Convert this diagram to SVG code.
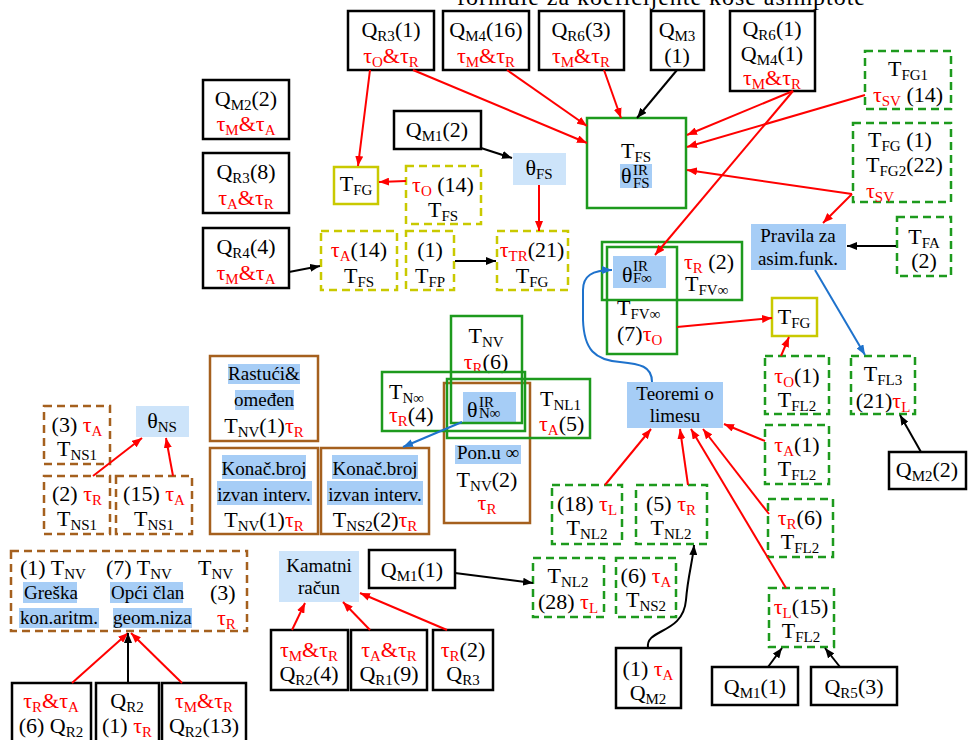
<svg xmlns="http://www.w3.org/2000/svg" width="968" height="740" viewBox="0 0 968 740">
<defs>
<style>
.t{font-family:"Liberation Serif","Times New Roman",serif;font-size:22px;fill:#000}
.m{font-size:19px}
.c{text-anchor:middle}
.s{font-size:15px}
.r{fill:#f00}
.bk{fill:#fff;stroke:#000;stroke-width:2.5}
.gs{fill:none;stroke:#1d9a1d;stroke-width:2.5}
.gd{fill:#fff;stroke:#1d9a1d;stroke-width:2.5;stroke-dasharray:8 5}
.ys{fill:#fff;stroke:#c9c900;stroke-width:2.5}
.yd{fill:#fff;stroke:#c9c900;stroke-width:2.5;stroke-dasharray:8 5}
.bs{fill:none;stroke:#a5601e;stroke-width:2.5}
.bd{fill:#fff;stroke:#a5601e;stroke-width:2.5;stroke-dasharray:8 5}
.hl{fill:#cde4fa}
.hm{fill:#a6cdf6}
.er{fill:none;stroke:#f00;stroke-width:2;marker-end:url(#ar)}
.eb{fill:none;stroke:#000;stroke-width:2;marker-end:url(#ab)}
.eu{fill:none;stroke:#1e72cc;stroke-width:2;marker-end:url(#au)}
</style>
<marker id="ar" markerUnits="userSpaceOnUse" markerWidth="10" markerHeight="8" refX="10" refY="4" orient="auto"><path d="M0,0 L10,4 L0,8 z" fill="#f00"/></marker>
<marker id="ab" markerUnits="userSpaceOnUse" markerWidth="10" markerHeight="8" refX="10" refY="4" orient="auto"><path d="M0,0 L10,4 L0,8 z" fill="#000"/></marker>
<marker id="au" markerUnits="userSpaceOnUse" markerWidth="10" markerHeight="8" refX="10" refY="4" orient="auto"><path d="M0,0 L10,4 L0,8 z" fill="#1e72cc"/></marker>
</defs>
<rect width="968" height="740" fill="#fff"/>

<g id="title"><text class="t" x="457" y="5" style="font-size:24px" textLength="408" lengthAdjust="spacing">formule za koeficijente kose asimptote</text></g>

<!-- top row -->
<g id="qr3-1"><rect class="bk" x="348" y="11" width="86" height="59"/>
<text class="t c" x="391" y="37">Q<tspan class="s" dy="4">R3</tspan><tspan dy="-4">(1)</tspan></text>
<text class="t c r" x="391" y="63">τ<tspan class="s" dy="4">O</tspan><tspan dy="-4">&amp;τ</tspan><tspan class="s" dy="4">R</tspan></text></g>

<g id="qm4-16"><rect class="bk" x="443" y="11" width="86" height="59"/>
<text class="t c" x="486" y="37">Q<tspan class="s" dy="4">M4</tspan><tspan dy="-4">(16)</tspan></text>
<text class="t c r" x="486" y="63">τ<tspan class="s" dy="4">M</tspan><tspan dy="-4">&amp;τ</tspan><tspan class="s" dy="4">R</tspan></text></g>

<g id="qr6-3"><rect class="bk" x="539" y="11" width="85" height="59"/>
<text class="t c" x="581" y="37">Q<tspan class="s" dy="4">R6</tspan><tspan dy="-4">(3)</tspan></text>
<text class="t c r" x="581" y="63">τ<tspan class="s" dy="4">M</tspan><tspan dy="-4">&amp;τ</tspan><tspan class="s" dy="4">R</tspan></text></g>

<g id="qm3"><rect class="bk" x="651" y="11" width="53" height="59"/>
<text class="t c" x="677" y="37">Q<tspan class="s" dy="4">M3</tspan></text>
<text class="t c" x="677" y="63">(1)</text></g>

<g id="qr6-1"><rect class="bk" x="730" y="11" width="85" height="80"/>
<text class="t c" x="772" y="36">Q<tspan class="s" dy="4">R6</tspan><tspan dy="-4">(1)</tspan></text>
<text class="t c" x="772" y="61">Q<tspan class="s" dy="4">M4</tspan><tspan dy="-4">(1)</tspan></text>
<text class="t c r" x="772" y="85">τ<tspan class="s" dy="4">M</tspan><tspan dy="-4">&amp;τ</tspan><tspan class="s" dy="4">R</tspan></text></g>

<g id="tfg1"><rect class="gd" x="865" y="51" width="86" height="58"/>
<text class="t c" x="908" y="76">T<tspan class="s" dy="4">FG1</tspan></text>
<text class="t c" x="908" y="102"><tspan class="r">τ</tspan><tspan class="s r" dy="4">SV</tspan><tspan dy="-4"> (14)</tspan></text></g>

<!-- left column -->
<g id="qm2-2"><rect class="bk" x="203" y="80" width="86" height="59"/>
<text class="t c" x="246" y="106">Q<tspan class="s" dy="4">M2</tspan><tspan dy="-4">(2)</tspan></text>
<text class="t c r" x="246" y="131">τ<tspan class="s" dy="4">M</tspan><tspan dy="-4">&amp;τ</tspan><tspan class="s" dy="4">A</tspan></text></g>

<g id="qr3-8"><rect class="bk" x="203" y="153" width="86" height="60"/>
<text class="t c" x="246" y="179">Q<tspan class="s" dy="4">R3</tspan><tspan dy="-4">(8)</tspan></text>
<text class="t c r" x="246" y="205">τ<tspan class="s" dy="4">A</tspan><tspan dy="-4">&amp;τ</tspan><tspan class="s" dy="4">R</tspan></text></g>

<g id="qr4-4"><rect class="bk" x="203" y="228" width="86" height="60"/>
<text class="t c" x="246" y="254">Q<tspan class="s" dy="4">R4</tspan><tspan dy="-4">(4)</tspan></text>
<text class="t c r" x="246" y="280">τ<tspan class="s" dy="4">M</tspan><tspan dy="-4">&amp;τ</tspan><tspan class="s" dy="4">A</tspan></text></g>

<g id="qm1-2"><rect class="bk" x="394" y="111" width="87" height="38"/>
<text class="t c" x="437" y="137">Q<tspan class="s" dy="4">M1</tspan><tspan dy="-4">(2)</tspan></text></g>

<g id="theta-fs"><rect class="hl" x="513" y="153" width="53" height="32"/>
<text class="t c" x="539" y="175">θ<tspan class="s" dy="4">FS</tspan></text></g>

<g id="tfg-a"><rect class="ys" x="334" y="167" width="44" height="37"/>
<text class="t c" x="356" y="191">T<tspan class="s" dy="4">FG</tspan></text></g>

<g id="to14"><rect class="yd" x="406" y="166" width="75" height="58"/>
<text class="t c" x="443" y="192"><tspan class="r">τ</tspan><tspan class="s r" dy="4">O</tspan><tspan dy="-4"> (14)</tspan></text>
<text class="t c" x="443" y="217">T<tspan class="s" dy="4">FS</tspan></text></g>

<g id="ta14"><rect class="yd" x="321" y="231" width="76" height="59"/>
<text class="t c" x="359" y="257"><tspan class="r">τ</tspan><tspan class="s r" dy="4">A</tspan><tspan dy="-4">(14)</tspan></text>
<text class="t c" x="359" y="283">T<tspan class="s" dy="4">FS</tspan></text></g>

<g id="tfp"><rect class="yd" x="406" y="231" width="48" height="59"/>
<text class="t c" x="430" y="257">(1)</text>
<text class="t c" x="430" y="283">T<tspan class="s" dy="4">FP</tspan></text></g>

<g id="ttr21"><rect class="yd" x="497" y="231" width="71" height="59"/>
<text class="t c" x="532" y="257"><tspan class="r">τ</tspan><tspan class="s r" dy="4">TR</tspan><tspan dy="-4">(21)</tspan></text>
<text class="t c" x="532" y="283">T<tspan class="s" dy="4">FG</tspan></text></g>

<!-- TFS box -->
<g id="tfs"><rect class="gs" x="587" y="118" width="99" height="90" fill="#fff" style="fill:#fff"/>
<text class="t c" x="636" y="158">T<tspan class="s" dy="4">FS</tspan></text>
<rect class="hm" x="620" y="164" width="32" height="24"/>
<text class="t" x="621" y="183">θ</text>
<text class="t s" x="633" y="175">IR</text>
<text class="t s" x="633" y="188">FS</text></g>

<g id="tfg2"><rect class="gd" x="853" y="123" width="98" height="79"/>
<text class="t" x="868" y="147">T<tspan class="s" dy="4">FG</tspan><tspan dy="-4"> (1)</tspan></text>
<text class="t" x="866" y="172">T<tspan class="s" dy="4">FG2</tspan><tspan dy="-4">(22)</tspan></text>
<text class="t r" x="866" y="198">τ<tspan class="s" dy="4">SV</tspan></text></g>

<g id="pravila"><rect class="hm" x="751" y="224" width="95" height="46"/>
<text class="t m c" x="798" y="242">Pravila za</text>
<text class="t m c" x="798" y="265">asim.funk.</text></g>

<g id="tfa"><rect class="gd" x="897" y="217" width="54" height="59"/>
<text class="t c" x="924" y="244">T<tspan class="s" dy="4">FA</tspan></text>
<text class="t c" x="924" y="268">(2)</text></g>

<!-- theta F inf cluster -->
<g id="theta-finf"><rect class="hm" x="613" y="256" width="53" height="32"/>
<text class="t" x="622" y="282">θ</text>
<text class="t s" x="633" y="271">IR</text>
<text class="t s" x="633" y="283">F∞</text></g>

<g id="tfvinf-r2"><rect class="gs" x="602" y="242" width="140" height="58"/>
<text class="t" x="684" y="269"><tspan class="r">τ</tspan><tspan class="s r" dy="4">R</tspan><tspan dy="-4"> (2)</tspan></text>
<text class="t" x="685" y="291">T<tspan class="s" dy="4">FV∞</tspan></text></g>

<g id="tfvinf-o7"><rect class="gs" x="607" y="247" width="70" height="107"/>
<text class="t" x="617" y="315">T<tspan class="s" dy="4">FV∞</tspan></text>
<text class="t" x="617" y="341">(7)<tspan class="r">τ</tspan><tspan class="s r" dy="4">O</tspan></text></g>

<g id="tfg-b"><rect class="ys" x="772" y="298" width="45" height="38"/>
<text class="t c" x="794" y="324">T<tspan class="s" dy="4">FG</tspan></text></g>

<!-- right column -->
<g id="to1"><rect class="gd" x="765" y="356" width="64" height="58"/>
<text class="t c" x="797" y="383"><tspan class="r">τ</tspan><tspan class="s r" dy="4">O</tspan><tspan dy="-4">(1)</tspan></text>
<text class="t c" x="797" y="407">T<tspan class="s" dy="4">FL2</tspan></text></g>

<g id="tfl3"><rect class="gd" x="851" y="356" width="64" height="58"/>
<text class="t c" x="883" y="381">T<tspan class="s" dy="4">FL3</tspan></text>
<text class="t c" x="883" y="408">(21)<tspan class="r">τ</tspan><tspan class="s r" dy="4">L</tspan></text></g>

<g id="ta1"><rect class="gd" x="765" y="425" width="64" height="59"/>
<text class="t c" x="797" y="452"><tspan class="r">τ</tspan><tspan class="s r" dy="4">A</tspan><tspan dy="-4">(1)</tspan></text>
<text class="t c" x="797" y="476">T<tspan class="s" dy="4">FL2</tspan></text></g>

<g id="qm2-2b"><rect class="bk" x="889" y="452" width="77" height="37"/>
<text class="t c" x="927" y="477">Q<tspan class="s" dy="4">M2</tspan><tspan dy="-4">(2)</tspan></text></g>

<g id="tr6"><rect class="gd" x="768" y="499" width="65" height="58"/>
<text class="t c" x="800" y="525"><tspan class="r">τ</tspan><tspan class="s r" dy="4">R</tspan><tspan dy="-4">(6)</tspan></text>
<text class="t c" x="800" y="549">T<tspan class="s" dy="4">FL2</tspan></text></g>

<g id="tl15"><rect class="gd" x="769" y="588" width="65" height="59"/>
<text class="t c" x="801" y="614"><tspan class="r">τ</tspan><tspan class="s r" dy="4">L</tspan><tspan dy="-4">(15)</tspan></text>
<text class="t c" x="801" y="638">T<tspan class="s" dy="4">FL2</tspan></text></g>

<g id="qm1-1b"><rect class="bk" x="712" y="667" width="86" height="38"/>
<text class="t c" x="755" y="694">Q<tspan class="s" dy="4">M1</tspan><tspan dy="-4">(1)</tspan></text></g>

<g id="qr5-3"><rect class="bk" x="811" y="667" width="86" height="38"/>
<text class="t c" x="854" y="694">Q<tspan class="s" dy="4">R5</tspan><tspan dy="-4">(3)</tspan></text></g>

<g id="ta-qm2"><rect class="bk" x="616" y="648" width="65" height="60"/>
<text class="t c" x="648" y="676">(1) <tspan class="r">τ</tspan><tspan class="s r" dy="4">A</tspan></text>
<text class="t c" x="648" y="700">Q<tspan class="s" dy="4">M2</tspan></text></g>

<g id="tnl2-28"><rect class="gd" x="533" y="558" width="71" height="59"/>
<text class="t c" x="568" y="583">T<tspan class="s" dy="4">NL2</tspan></text>
<text class="t c" x="568" y="609">(28) <tspan class="r">τ</tspan><tspan class="s r" dy="4">L</tspan></text></g>

<g id="tns2-6"><rect class="gd" x="616" y="558" width="60" height="59"/>
<text class="t c" x="646" y="583">(6) <tspan class="r">τ</tspan><tspan class="s r" dy="4">A</tspan></text>
<text class="t c" x="646" y="607">T<tspan class="s" dy="4">NS2</tspan></text></g>

<g id="tnl2-18"><rect class="gd" x="552" y="485" width="70" height="59"/>
<text class="t c" x="587" y="511">(18) <tspan class="r">τ</tspan><tspan class="s r" dy="4">L</tspan></text>
<text class="t c" x="587" y="535">T<tspan class="s" dy="4">NL2</tspan></text></g>

<g id="tnl2-5"><rect class="gd" x="636" y="485" width="71" height="59"/>
<text class="t c" x="671" y="511">(5) <tspan class="r">τ</tspan><tspan class="s r" dy="4">R</tspan></text>
<text class="t c" x="671" y="535">T<tspan class="s" dy="4">NL2</tspan></text></g>

<g id="teoremi"><rect class="hm" x="627" y="382" width="96" height="46"/>
<text class="t m c" x="675" y="400">Teoremi o</text>
<text class="t m c" x="675" y="422">limesu</text></g>

<!-- central cluster -->
<g id="theta-ninf"><rect class="hm" x="463" y="392" width="53" height="31"/>
<text class="t" x="467" y="417">θ</text>
<text class="t s" x="479" y="407">IR</text>
<text class="t s" x="479" y="418">N∞</text></g>

<g id="pon"><rect class="bs" x="444" y="383" width="86" height="140"/>
<rect class="hm" x="455" y="445" width="66" height="19"/>
<text class="t m c" x="488" y="459">Pon.u ∞</text>
<text class="t c" x="487" y="487">T<tspan class="s" dy="4">NV</tspan><tspan dy="-4">(2)</tspan></text>
<text class="t c r" x="487" y="510">τ<tspan class="s" dy="4">R</tspan></text></g>

<g id="tnv-r6"><rect class="gs" x="451" y="316" width="71" height="107"/>
<text class="t c" x="486" y="343">T<tspan class="s" dy="4">NV</tspan></text>
<text class="t c" x="486" y="369"><tspan class="r">τ</tspan><tspan class="s r" dy="4">R</tspan><tspan dy="-4">(6)</tspan></text></g>

<g id="tninf"><rect class="gs" x="382" y="372" width="143" height="59"/>
<text class="t" x="389" y="399">T<tspan class="s" dy="4">N∞</tspan></text>
<text class="t" x="389" y="422"><tspan class="r">τ</tspan><tspan class="s r" dy="4">R</tspan><tspan dy="-4">(4)</tspan></text></g>

<g id="tnl1"><rect class="gs" x="447" y="379" width="143" height="59"/>
<text class="t" x="540" y="406">T<tspan class="s" dy="4">NL1</tspan></text>
<text class="t" x="539" y="431"><tspan class="r">τ</tspan><tspan class="s r" dy="4">A</tspan><tspan dy="-4">(5)</tspan></text></g>

<!-- left brown boxes -->
<g id="rastuci"><rect class="bs" x="210" y="356" width="108" height="85"/>
<rect class="hm" x="228" y="364" width="72" height="20"/>
<rect class="hm" x="235" y="390" width="59" height="20"/>
<text class="t m c" x="264" y="380">Rastući&amp;</text>
<text class="t m c" x="264" y="406">omeđen</text>
<text class="t c" x="264" y="433">T<tspan class="s" dy="4">NV</tspan><tspan dy="-4">(1)</tspan><tspan class="r">τ</tspan><tspan class="s r" dy="4">R</tspan></text></g>

<g id="konac-1"><rect class="bs" x="210" y="448" width="108" height="86"/>
<rect class="hm" x="222" y="455" width="84" height="24"/>
<rect class="hm" x="217" y="481" width="95" height="24"/>
<text class="t m c" x="264" y="475">Konač.broj</text>
<text class="t m c" x="264" y="501">izvan interv.</text>
<text class="t c" x="264" y="527">T<tspan class="s" dy="4">NV</tspan><tspan dy="-4">(1)</tspan><tspan class="r">τ</tspan><tspan class="s r" dy="4">R</tspan></text></g>

<g id="konac-2"><rect class="bs" x="321" y="448" width="108" height="86"/>
<rect class="hm" x="332" y="455" width="86" height="24"/>
<rect class="hm" x="327" y="481" width="96" height="24"/>
<text class="t m c" x="375" y="475">Konač.broj</text>
<text class="t m c" x="375" y="501">izvan interv.</text>
<text class="t c" x="375" y="527">T<tspan class="s" dy="4">NS2</tspan><tspan dy="-4">(2)</tspan><tspan class="r">τ</tspan><tspan class="s r" dy="4">R</tspan></text></g>

<g id="tns1-3"><rect class="bd" x="44" y="406" width="66" height="58"/>
<text class="t c" x="77" y="432">(3) <tspan class="r">τ</tspan><tspan class="s r" dy="4">A</tspan></text>
<text class="t c" x="77" y="456">T<tspan class="s" dy="4">NS1</tspan></text></g>

<g id="tns1-2"><rect class="bd" x="44" y="476" width="66" height="58"/>
<text class="t c" x="77" y="501">(2) <tspan class="r">τ</tspan><tspan class="s r" dy="4">R</tspan></text>
<text class="t c" x="77" y="526">T<tspan class="s" dy="4">NS1</tspan></text></g>

<g id="tns1-15"><rect class="bd" x="116" y="476" width="76" height="58"/>
<text class="t c" x="154" y="501">(15) <tspan class="r">τ</tspan><tspan class="s r" dy="4">A</tspan></text>
<text class="t c" x="154" y="526">T<tspan class="s" dy="4">NS1</tspan></text></g>

<g id="theta-ns"><rect class="hl" x="136" y="406" width="53" height="31"/>
<text class="t c" x="162" y="428">θ<tspan class="s" dy="4">NS</tspan></text></g>

<!-- bottom-left -->
<g id="niz"><rect class="bd" x="11" y="551" width="236" height="80"/>
<rect class="hm" x="23" y="582" width="54" height="21"/>
<rect class="hm" x="110" y="582" width="73" height="21"/>
<rect class="hm" x="19" y="608" width="80" height="20"/>
<rect class="hm" x="113" y="608" width="79" height="20"/>
<text class="t" x="20" y="575">(1) T<tspan class="s" dy="4">NV</tspan></text>
<text class="t" x="106" y="575">(7) T<tspan class="s" dy="4">NV</tspan></text>
<text class="t" x="198" y="575">T<tspan class="s" dy="4">NV</tspan></text>
<text class="t m" x="24" y="599">Greška</text>
<text class="t m" x="111" y="599">Opći član</text>
<text class="t" x="210" y="600">(3)</text>
<text class="t m" x="20" y="624">kon.aritm.</text>
<text class="t m" x="113" y="624">geom.niza</text>
<text class="t r" x="217" y="625">τ<tspan class="s" dy="4">R</tspan></text></g>

<g id="qr2-6"><rect class="bk" x="12" y="683" width="79" height="70"/>
<text class="t c r" x="51" y="708">τ<tspan class="s" dy="4">R</tspan><tspan dy="-4">&amp;τ</tspan><tspan class="s" dy="4">A</tspan></text>
<text class="t c" x="51" y="733">(6) Q<tspan class="s" dy="4">R2</tspan></text></g>

<g id="qr2-1"><rect class="bk" x="96" y="683" width="63" height="70"/>
<text class="t c" x="127" y="708">Q<tspan class="s" dy="4">R2</tspan></text>
<text class="t c" x="127" y="733">(1) <tspan class="r">τ</tspan><tspan class="s r" dy="4">R</tspan></text></g>

<g id="qr2-13"><rect class="bk" x="162" y="683" width="84" height="70"/>
<text class="t c r" x="204" y="708">τ<tspan class="s" dy="4">M</tspan><tspan dy="-4">&amp;τ</tspan><tspan class="s" dy="4">R</tspan></text>
<text class="t c" x="204" y="733">Q<tspan class="s" dy="4">R2</tspan><tspan dy="-4">(13)</tspan></text></g>

<g id="kamatni"><rect class="hl" x="279" y="551" width="80" height="51"/>
<text class="t m c" x="319" y="572">Kamatni</text>
<text class="t m c" x="319" y="594">račun</text></g>

<g id="qm1-1"><rect class="bk" x="369" y="550" width="86" height="38"/>
<text class="t c" x="412" y="577">Q<tspan class="s" dy="4">M1</tspan><tspan dy="-4">(1)</tspan></text></g>

<g id="qr2-4"><rect class="bk" x="271" y="630" width="77" height="60"/>
<text class="t c r" x="309" y="657">τ<tspan class="s" dy="4">M</tspan><tspan dy="-4">&amp;τ</tspan><tspan class="s" dy="4">R</tspan></text>
<text class="t c" x="309" y="681">Q<tspan class="s" dy="4">R2</tspan><tspan dy="-4">(4)</tspan></text></g>

<g id="qr1-9"><rect class="bk" x="351" y="630" width="76" height="60"/>
<text class="t c r" x="389" y="657">τ<tspan class="s" dy="4">A</tspan><tspan dy="-4">&amp;τ</tspan><tspan class="s" dy="4">R</tspan></text>
<text class="t c" x="389" y="681">Q<tspan class="s" dy="4">R1</tspan><tspan dy="-4">(9)</tspan></text></g>

<g id="qr3-2"><rect class="bk" x="433" y="630" width="60" height="60"/>
<text class="t c" x="463" y="657"><tspan class="r">τ</tspan><tspan class="s r" dy="4">R</tspan><tspan dy="-4">(2)</tspan></text>
<text class="t c" x="463" y="681">Q<tspan class="s" dy="4">R3</tspan></text></g>

<!-- connectors -->
<g id="connectors">
<path class="er" d="M370,70 L358,166"/>
<path class="er" d="M413,70 L587,143"/>
<path class="er" d="M507,70 L587,126"/>
<path class="er" d="M604,70 L621,118"/>
<path class="er" d="M793,91 L687,135"/>
<path class="er" d="M793,91 L655,255"/>
<path class="er" d="M865,95 L687,147"/>
<path class="er" d="M852,194 L687,170"/>
<path class="er" d="M852,194 L823,223"/>
<path class="er" d="M539,185 L539,231"/>
<path class="er" d="M406,181 L379,182"/>
<path class="er" d="M677,327 L772,318"/>
<path class="er" d="M781,356 L789,337"/>
<path class="er" d="M93,476 L142,438"/>
<path class="er" d="M173,476 L166,438"/>
<path class="er" d="M605,485 L651,429"/>
<path class="er" d="M688,485 L680,429"/>
<path class="er" d="M769,514 L703,429"/>
<path class="er" d="M786,588 L691,429"/>
<path class="er" d="M765,441 L724,424"/>
<path class="er" d="M292,630 L305,603"/>
<path class="er" d="M370,630 L343,602"/>
<path class="er" d="M447,630 L360,593"/>
<path class="er" d="M72,683 L128,633"/>
<path class="er" d="M182,683 L131,633"/>
<path class="eb" d="M677,70 L637,118"/>
<path class="eb" d="M481,148 L512,158"/>
<path class="eb" d="M289,272 L320,266"/>
<path class="eb" d="M455,261 L496,261"/>
<path class="eb" d="M896,246 L847,246"/>
<path class="eb" d="M921,452 L900,415"/>
<path class="eb" d="M455,573 L533,583"/>
<path class="eb" d="M648,648 C645,628 683,635 686,600 C688,575 693,560 694,545"/>
<path class="eb" d="M768,667 L782,648"/>
<path class="eb" d="M840,667 L825,648"/>
<path class="eb" d="M128,683 L128,633"/>
<path class="eu" d="M815,270 L865,355"/>
<path class="eu" d="M652,382 C652,366 640,364 620,362 C595,360 584,350 583,320 L583,290 C583,276 592,270 612,270"/>
<path class="eu" d="M462,422 L403,447"/>
</g>
</svg>
